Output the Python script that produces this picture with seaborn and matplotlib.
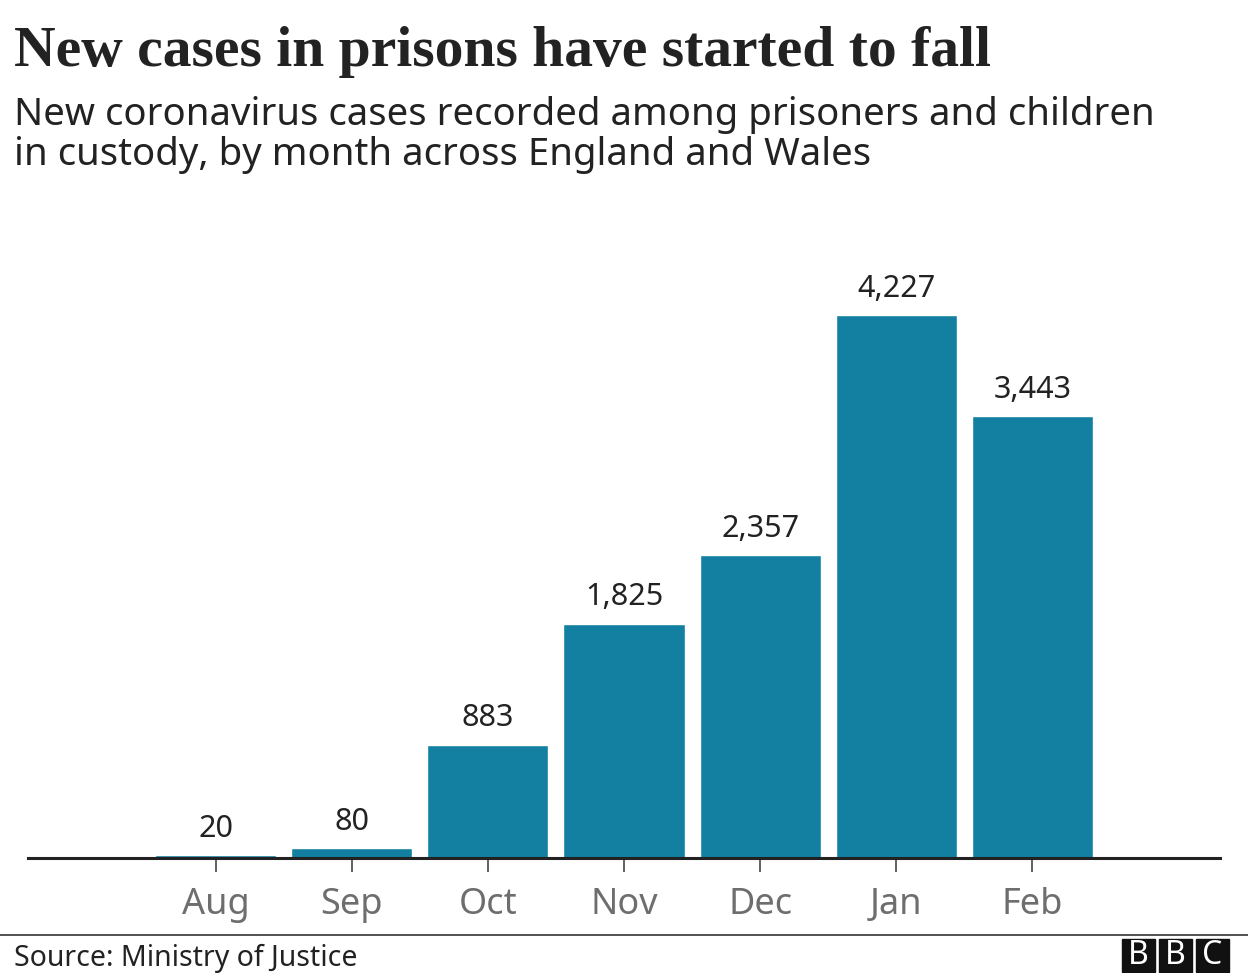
import seaborn as sns
import matplotlib.pyplot as plt
from matplotlib.patches import Rectangle

# ---------- datos ----------
months = ["Aug", "Sep", "Oct", "Nov", "Dec", "Jan", "Feb"]
cases = [20, 80, 883, 1825, 2357, 4227, 3443]

TITLE = "New cases in prisons have started to fall"
SUBTITLE = ("New coronavirus cases recorded among prisoners and children\n"
            "in custody, by month across England and Wales")
SOURCE = "Source: Ministry of Justice"
BAR_COLOR = "#1380a1"

sns.set_style("white")
plt.rcParams["font.family"] = ["Noto Sans", "DejaVu Sans"]

fig = plt.figure(figsize=(12.48, 9.73), dpi=100)
ax = fig.add_axes([28 / 1248, 1 - 858 / 973, 1192 / 1248, 608 / 973])

sns.barplot(x=months, y=cases, color=BAR_COLOR, saturation=1, width=0.89, ax=ax)

ax.bar_label(ax.containers[0], labels=[f"{v:,}" for v in cases],
             padding=8, fontsize=22, color="#222222")

ax.set_xlim(-1.38, 7.38)
ax.set_ylim(0, 4733)
ax.set_xlabel("")
ax.set_ylabel("")
ax.set_yticks([])
sns.despine(ax=ax, left=True)
ax.spines["bottom"].set_color("#222222")
ax.spines["bottom"].set_linewidth(2.2)
ax.tick_params(axis="x", bottom=True, length=10, width=1.2, color="#444444",
               labelsize=26, labelcolor="#6e6e6e", pad=11)

# ---------- titulos ----------
fig.text(14 / 1248, 1 - 66 / 973, TITLE, fontsize=41.5, fontweight="bold",
         family=["Liberation Serif", "DejaVu Serif"], color="#222222",
         va="baseline", ha="left")
fig.text(14 / 1248, 1 - 165 / 973, SUBTITLE, fontsize=27.6, color="#222222",
         va="baseline", ha="left", linespacing=1.08)

# ---------- pie ----------
fig.add_artist(plt.Line2D([0, 1], [1 - 935 / 973] * 2, color="#333333", lw=1.2))
fig.text(14 / 1248, 1 - 966 / 973, SOURCE, fontsize=20.5, color="#222222",
         va="baseline", ha="left")
for i, letter in enumerate("BBC"):
    x0 = (1122 + i * 37) / 1248
    fig.add_artist(Rectangle((x0, 1 - 972 / 973), 33 / 1248, 33 / 973,
                             transform=fig.transFigure, color="#111111"))
    fig.text(x0 + 16.5 / 1248, 1 - 956 / 973, letter, fontsize=23,
             fontweight="bold", color="white", ha="center", va="center")

fig.savefig("out.png", dpi=100)
